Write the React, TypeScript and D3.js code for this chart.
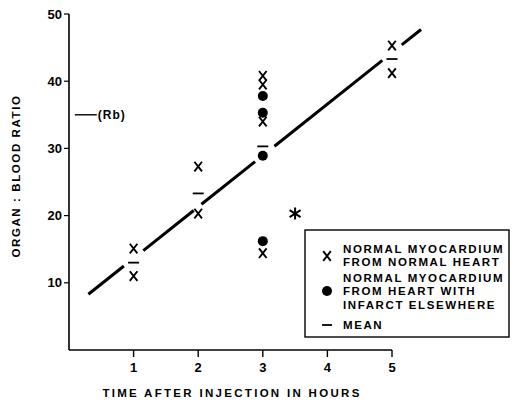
import React from 'react';
import { scaleLinear, line } from 'd3';

// values
const normalTime = [1, 1, 2, 2, 3, 3, 3, 3, 5, 5];
const normalRatio = [15.1, 11.0, 27.3, 20.3, 40.8, 39.5, 34.0, 14.4, 45.3, 41.2];
const infarctTime = [3, 3, 3, 3];
const infarctRatio = [37.8, 35.3, 28.9, 16.2];
const meanTime = [1, 2, 3, 5];
const meanRatio = [13.0, 23.3, 30.3, 43.3];
const starTime = [3.5];
const starRatio = [20.3];
const fitIntercept = 6.0;
const fitSlope = 7.65;
const fitSegments = [
  [0.3, 0.85],
  [1.15, 1.93],
  [2.05, 2.88],
  [3.18, 4.85],
  [5.15, 5.45],
];
const rbLevel = 35;
const rbRange = [0.09, 0.43];
const xTicks = [1, 2, 3, 4, 5];
const yTicks = [10, 20, 30, 40, 50];
const legendLines = [
  'NORMAL MYOCARDIUM',
  'FROM NORMAL HEART',
  'NORMAL MYOCARDIUM',
  'FROM HEART WITH',
  'INFARCT ELSEWHERE',
];

const dims = { width: 515, height: 405 };
const font = "'Liberation Sans', Arial, sans-serif";

const x = scaleLinear().domain([0, 5]).range([69, 392]);
const y = scaleLinear().domain([0, 50]).range([350, 14]);

const fitLine = line<number>()
  .x((t) => x(t))
  .y((t) => y(fitIntercept + fitSlope * t));

const Cross = ({ cx, cy }: { cx: number; cy: number }) => (
  <path
    d={`M${cx - 3.8},${cy - 4.8}L${cx + 3.8},${cy + 4.8}M${cx + 3.8},${cy - 4.8}L${cx - 3.8},${cy + 4.8}`}
    stroke="#000"
    strokeWidth={1.9}
    fill="none"
  />
);

const Star = ({ cx, cy }: { cx: number; cy: number }) => (
  <path
    d={`M${cx},${cy - 6}L${cx},${cy + 6}M${cx - 5.5},${cy - 3.5}L${cx + 5.5},${cy + 3.5}M${cx + 5.5},${cy - 3.5}L${cx - 5.5},${cy + 3.5}`}
    stroke="#000"
    strokeWidth={2}
    fill="none"
  />
);

const App = () => {
  return (
    <svg
      width={dims.width}
      height={dims.height}
      style={{ position: 'absolute', left: 0, top: 0, background: '#fff' }}
      fontFamily={font}
      fontWeight="bold"
    >
      {/* axes */}
      <line x1={x(0)} x2={x(0)} y1={y(0)} y2={y(50)} stroke="#000" strokeWidth={1.6} />
      <line x1={x(0)} x2={x(5)} y1={y(0)} y2={y(0)} stroke="#000" strokeWidth={1.6} />
      {yTicks.map((t) => (
        <g key={'y' + t}>
          <line x1={x(0) - 5} x2={x(0)} y1={y(t)} y2={y(t)} stroke="#000" strokeWidth={1.2} />
          <text x={x(0) - 7} y={y(t)} dy="0.35em" textAnchor="end" fontSize={13}>
            {t}
          </text>
        </g>
      ))}
      {xTicks.map((t) => (
        <g key={'x' + t}>
          <line x1={x(t)} x2={x(t)} y1={y(0)} y2={y(0) + 7} stroke="#000" strokeWidth={1.4} />
          <text x={x(t)} y={y(0) + 22} textAnchor="middle" fontSize={13}>
            {t}
          </text>
        </g>
      ))}
      <text x={232} y={397} textAnchor="middle" fontSize={11.5} letterSpacing={2.3}>
        TIME AFTER INJECTION IN HOURS
      </text>
      <text
        transform={`translate(20,${176}) rotate(-90)`}
        textAnchor="middle"
        fontSize={11.5}
        letterSpacing={1.6}
      >
        ORGAN : BLOOD RATIO
      </text>

      {/* Rb reference */}
      <line x1={x(rbRange[0])} x2={x(rbRange[1])} y1={y(rbLevel)} y2={y(rbLevel)} stroke="#000" strokeWidth={1.4} />
      <text x={x(rbRange[1]) + 1} y={y(rbLevel)} dy="0.35em" fontSize={12} letterSpacing={1}>
        (Rb)
      </text>

      {/* regression line */}
      {fitSegments.map((s, i) => (
        <path key={'f' + i} d={fitLine(s) || ''} stroke="#000" strokeWidth={3} fill="none" />
      ))}

      {/* points */}
      {normalTime.map((t, i) => (
        <Cross key={'n' + i} cx={x(t)} cy={y(normalRatio[i])} />
      ))}
      {infarctTime.map((t, i) => (
        <circle key={'c' + i} cx={x(t)} cy={y(infarctRatio[i])} r={5} fill="#000" />
      ))}
      {meanTime.map((t, i) => (
        <line
          key={'m' + i}
          x1={x(t) - 5.5}
          x2={x(t) + 5.5}
          y1={y(meanRatio[i])}
          y2={y(meanRatio[i])}
          stroke="#000"
          strokeWidth={1.8}
        />
      ))}
      {starTime.map((t, i) => (
        <Star key={'s' + i} cx={x(t)} cy={y(starRatio[i])} />
      ))}

      {/* legend */}
      <rect x={305} y={230} width={204} height={107} fill="#fff" stroke="#000" strokeWidth={1.4} />
      <Cross cx={327} cy={256} />
      <circle cx={327} cy={291} r={5} fill="#000" />
      <line x1={322} x2={332} y1={325} y2={325} stroke="#000" strokeWidth={1.8} />
      {legendLines.map((l, i) => (
        <text
          key={'l' + i}
          x={343}
          y={[249, 262, 278, 291, 305][i]}
          dy="0.35em"
          fontSize={11.5}
          letterSpacing={1.6}
        >
          {l}
        </text>
      ))}
      <text x={343} y={325} dy="0.35em" fontSize={11.5} letterSpacing={1.6}>
        MEAN
      </text>
    </svg>
  );
};

export default App;
